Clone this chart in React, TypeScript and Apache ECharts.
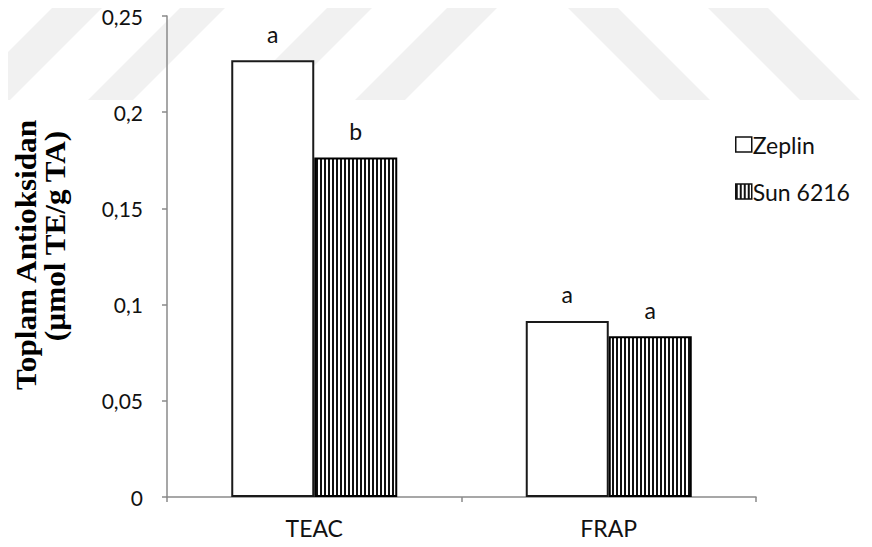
import React, { useEffect, useRef } from "react";
import * as echarts from "echarts";

const categories = ["TEAC", "FRAP"];
const seriesNames = ["Zeplin", "Sun 6216"];
const zeplinValues = [0.227, 0.0915];
const sunValues = [0.1765, 0.0835];
const zeplinLetters = ["a", "a"];
const sunLetters = ["b", "a"];
const yTicks = { min: 0, max: 0.25, interval: 0.05 };
const yTitle1 = "Toplam Antioksidan";
const yTitle2 = "(µmol TE/g TA)";

const LABEL_FONT = "Lato, 'Open Sans', sans-serif";

function makeStripePattern(): HTMLCanvasElement {
  const c = document.createElement("canvas");
  c.width = 4;
  c.height = 4;
  const ctx = c.getContext("2d")!;
  ctx.fillStyle = "#ffffff";
  ctx.fillRect(0, 0, 4, 4);
  ctx.fillStyle = "#111111";
  ctx.fillRect(0, 0, 2, 4);
  return c;
}

// faint watermark bands (decoration)
function band(x0: number, w: number, dir: number, top: number, bottom: number) {
  const h = bottom - top;
  if (dir > 0) {
    return [
      [x0, bottom],
      [x0 + w, bottom],
      [x0 + w + h, top],
      [x0 + h, top],
    ];
  }
  return [
    [x0, top],
    [x0 + w, top],
    [x0 + w + h, bottom],
    [x0 + h, bottom],
  ];
}

export default function App() {
  const ref = useRef<HTMLDivElement>(null);
  useEffect(() => {
    if (!ref.current) return;
    const chart = echarts.init(ref.current, undefined, { renderer: "svg" });
    const pattern = makeStripePattern();
    const wmColor = "#f1f1f1";
    const bands = [
      band(-40, 50, 1, 0, 100),
      band(88, 45, 1, 0, 100),
      band(235, 45, 1, 0, 100),
      band(355, 50, 1, 0, 100),
      band(560, 50, -1, 0, 100),
      band(700, 60, -1, 0, 100),
    ];
    const titleFont = "bold 30px 'Liberation Serif', 'Times New Roman', serif";
    chart.setOption({
      animation: false,
      backgroundColor: "#ffffff",
      grid: { left: 167, right: 116, top: 16, bottom: 50, containLabel: false },
      graphic: [
        ...bands.map((pts) => ({
          type: "polygon",
          z: -10,
          silent: true,
          shape: { points: pts },
          style: { fill: wmColor },
        })),
        {
          type: "text",
          x: 26,
          y: 255,
          rotation: Math.PI / 2,
          scaleX: 1.04,
          style: {
            text: yTitle1,
            font: titleFont,
            fill: "#000",
            textAlign: "center",
            textVerticalAlign: "middle",
            verticalAlign: "middle",
          },
        },
        {
          type: "text",
          x: 55,
          y: 236,
          rotation: Math.PI / 2,
          scaleX: 1.04,
          style: {
            text: yTitle2,
            font: titleFont,
            fill: "#000",
            textAlign: "center",
            textVerticalAlign: "middle",
            verticalAlign: "middle",
          },
        },
      ],
      legend: {
        orient: "vertical",
        left: 730,
        top: 128,
        itemWidth: 16,
        itemHeight: 15,
        itemGap: 24,
        icon: "rect",
        textStyle: { fontSize: 23, color: "#111", fontFamily: LABEL_FONT, padding: [0, 0, 0, -4] },
        data: seriesNames,
        itemStyle: { borderWidth: 1.5, borderColor: "#111" },
      },
      xAxis: {
        type: "category",
        data: categories,
        axisLine: { lineStyle: { color: "#8a8a8a", width: 1.5 } },
        axisTick: { show: true, length: 5, inside: false, lineStyle: { color: "#8a8a8a", width: 1.5 } },
        axisLabel: { fontSize: 23, color: "#111", fontFamily: LABEL_FONT, margin: 19 },
        splitLine: { show: false },
      },
      yAxis: {
        type: "value",
        min: yTicks.min,
        max: yTicks.max,
        interval: yTicks.interval,
        axisLine: { show: true, lineStyle: { color: "#8a8a8a", width: 1.5 } },
        axisTick: { show: true, length: 5, lineStyle: { color: "#8a8a8a", width: 1.5 } },
        axisLabel: {
          fontSize: 21,
          color: "#111",
          fontFamily: LABEL_FONT,
          margin: 24,
          formatter: (v: number) => String(Math.round(v * 100) / 100).replace(".", ","),
        },
        splitLine: { show: false },
      },
      series: [
        {
          name: seriesNames[0],
          type: "bar",
          data: zeplinValues,
          barWidth: 83,
          barGap: "0%",
          itemStyle: { color: "#ffffff", borderColor: "#1a1a1a", borderWidth: 2 },
          label: {
            show: true,
            position: "top",
            distance: 15,
            fontSize: 23,
            color: "#111",
            fontFamily: LABEL_FONT,
            formatter: (p: any) => zeplinLetters[p.dataIndex],
          },
        },
        {
          name: seriesNames[1],
          type: "bar",
          data: sunValues,
          barWidth: 83,
          barGap: "0%",
          itemStyle: {
            color: { image: pattern, repeat: "repeat" },
            borderColor: "#000",
            borderWidth: 2,
          },
          label: {
            show: true,
            position: "top",
            distance: 15,
            fontSize: 23,
            color: "#111",
            fontFamily: LABEL_FONT,
            formatter: (p: any) => sunLetters[p.dataIndex],
          },
        },
      ],
    });
    return () => chart.dispose();
  }, []);
  return <div ref={ref} style={{ width: 872, height: 547, margin: -8 }} />;
}
